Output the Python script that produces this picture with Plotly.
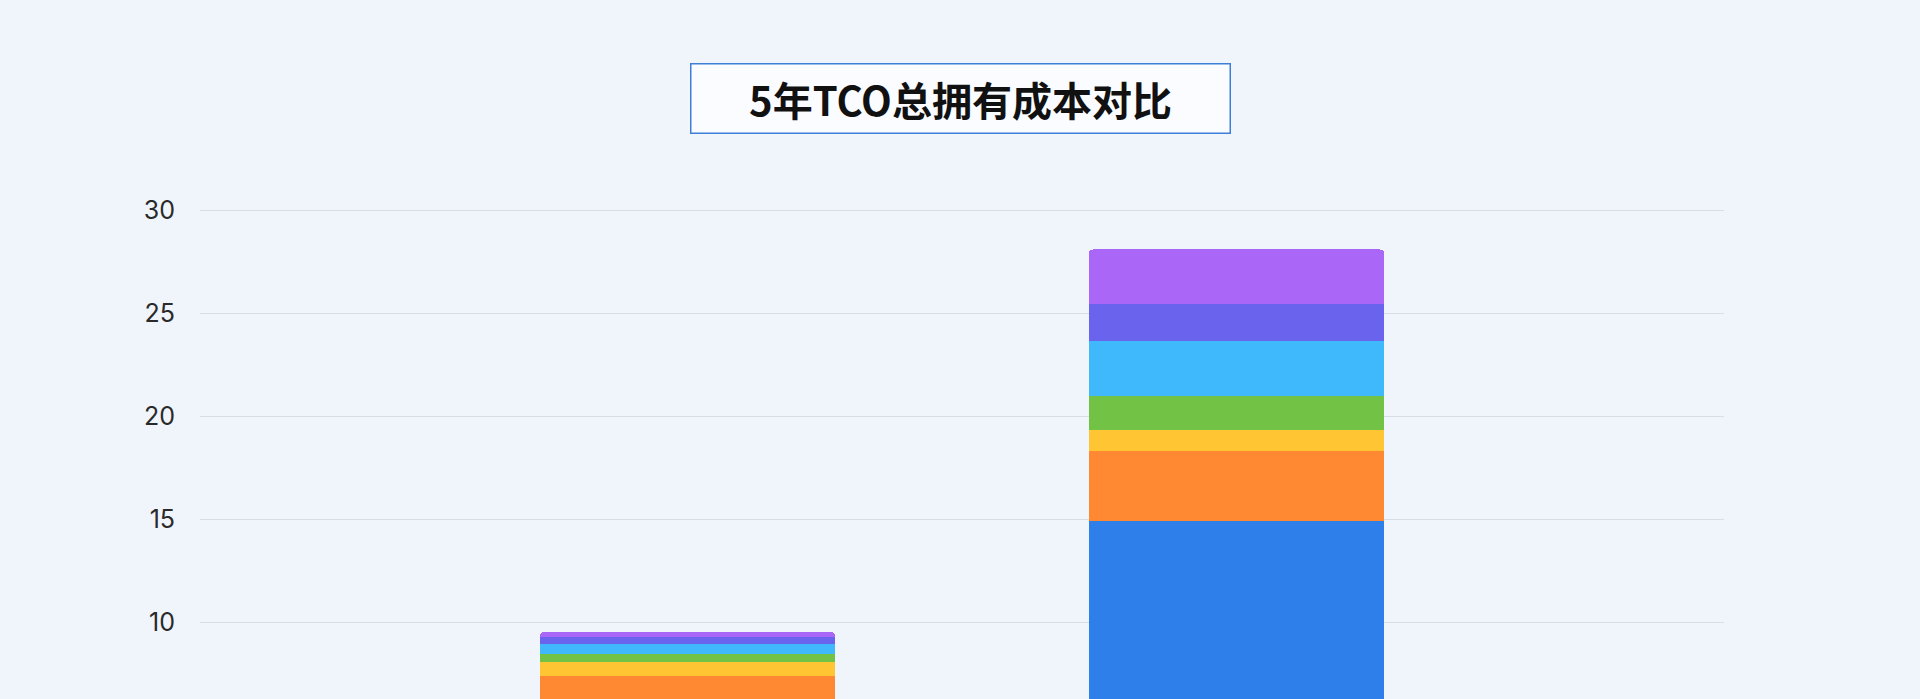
import plotly.graph_objects as go

# 5-year TCO, two options, stacked by cost item (unit: 10k CNY)
categories = ["新方案", "传统方案"]
series_names = ["硬件采购", "软件许可", "部署实施", "运维人力", "能耗电费", "机房空间", "升级扩容"]
series_colors = ["#2F7FEB", "#FF8833", "#FFC533", "#72C345", "#3FB8FC", "#6A63EE", "#A966F7"]
series_values = [
    [5.8, 14.9],   # 硬件采购
    [1.6, 3.4],    # 软件许可
    [0.66, 1.03],  # 部署实施
    [0.39, 1.65],  # 运维人力
    [0.52, 2.67],  # 能耗电费
    [0.32, 1.78],  # 机房空间
    [0.24, 2.67],  # 升级扩容
]
y_ticks = [0, 5, 10, 15, 20, 25, 30]

fig = go.Figure()
for name, color, vals in zip(series_names, series_colors, series_values):
    fig.add_trace(go.Bar(
        name=name,
        x=categories,
        y=vals,
        marker=dict(color=color, line=dict(width=0)),
        hovertemplate="%{x}<br>" + name + ": %{y}<extra></extra>",
    ))

# the reference only shows the upper part of the chart, so the visible
# window of the value axis starts around 6.3 instead of 0
fig.update_layout(
    width=1920,
    height=699,
    barmode="stack",
    bargap=0.463,
    barcornerradius=4,
    paper_bgcolor="#F0F5FC",
    plot_bgcolor="#F0F5FC",
    margin=dict(l=200, r=196, t=209, b=0),
    font=dict(family="Inter, Noto Sans CJK SC, sans-serif", color="#2A2A2A"),
    showlegend=False,
    xaxis=dict(
        type="category",
        range=[-0.888, 1.888],
        showgrid=False,
        showline=False,
        showticklabels=False,
    ),
    yaxis=dict(
        range=[6.277, 30.063],
        tickvals=y_ticks,
        showgrid=True,
        gridcolor="#D8DEE6",
        gridwidth=1.2,
        zeroline=False,
        showline=False,
        tickfont=dict(size=25, color="#2A2A2A"),
        ticklabelstandoff=24,
    ),
    annotations=[dict(
        text="<b>5年TCO总拥有成本对比</b>",
        xref="paper", yref="paper",
        x=0.4987, y=1.2265,
        xanchor="center", yanchor="middle",
        showarrow=False,
        width=536, height=66,
        bgcolor="#FAFCFF",
        bordercolor="#3D7FD6",
        borderwidth=1.5,
        font=dict(family="Noto Sans CJK SC, sans-serif", size=40, color="#111111"),
    )],
)

fig.write_html("out.html", config={"displayModeBar": False},
               post_script="document.body.style.margin='0';")
